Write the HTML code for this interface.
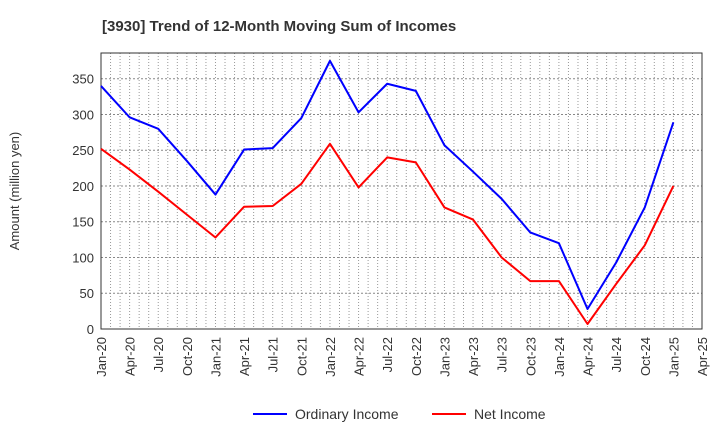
<!DOCTYPE html>
<html><head><meta charset="utf-8"><style>
body{margin:0;background:#fff;font-family:"Liberation Sans",sans-serif}
</style></head><body>
<svg id="c" width="720" height="440" xmlns="http://www.w3.org/2000/svg">
<text x="102" y="31" font-size="15" font-weight="bold" fill="#333">[3930]  Trend of 12-Month Moving Sum of Incomes</text>
<text transform="translate(19,191) rotate(-90)" text-anchor="middle" font-size="13" fill="#333">Amount (million yen)</text>
<g id="grid"></g><g id="axes"></g><g id="series"></g>
<g>
<line x1="253" y1="414" x2="287" y2="414" stroke="#0000ff" stroke-width="2"/>
<text x="295" y="419" font-size="14" fill="#333">Ordinary Income</text>
<line x1="432" y1="414" x2="466" y2="414" stroke="#ff0000" stroke-width="2"/>
<text x="474" y="419" font-size="14" fill="#333">Net Income</text>
</g>
</svg>
<script>
const xLabels=["Jan-20","Apr-20","Jul-20","Oct-20","Jan-21","Apr-21","Jul-21","Oct-21","Jan-22","Apr-22","Jul-22","Oct-22","Jan-23","Apr-23","Jul-23","Oct-23","Jan-24","Apr-24","Jul-24","Oct-24","Jan-25","Apr-25"];
const yTicks=[0,50,100,150,200,250,300,350];
const ordinaryIncome=[340,296,280,235,188,251,253,295,375,303,343,333,257,220,182,135,120,28,93,170,289];
const netIncome=[252,223,192,160,128,171,172,203,259,198,240,233,170,153,100,67,67,7,63,117,200];
const L=101,R=702,T=53,B=329,ymax=386;
const NS="http://www.w3.org/2000/svg";
const xq=i=>L+i*(R-L)/(xLabels.length-1);
const ys=v=>B-v*(B-T)/ymax;
function mk(tag,attrs,parent){const e=document.createElementNS(NS,tag);for(const k in attrs)e.setAttribute(k,attrs[k]);document.getElementById(parent).appendChild(e);return e;}
for(let m=1;m<(xLabels.length-1)*3;m++){
 const x=L+m*(R-L)/((xLabels.length-1)*3);
 const g=mk("line",{x1:x,x2:x,y1:T,y2:B,stroke:"#999","stroke-dasharray":"1,2","stroke-width":1},"grid");
 
 
}
yTicks.forEach(v=>{
 if(v>0){const g=mk("line",{x1:L,x2:R,y1:ys(v),y2:ys(v),stroke:"#888","stroke-dasharray":"2,2","stroke-width":1},"grid");
 
 }
 const t=mk("text",{x:L-7,y:ys(v)+5,"text-anchor":"end","font-size":13,fill:"#333"},"axes");t.textContent=v;
 
 
});
xLabels.forEach((s,i)=>{
 const t=mk("text",{transform:`translate(${xq(i)+5},${B+8}) rotate(-90)`,"text-anchor":"end","font-size":13,fill:"#333"},"axes");t.textContent=s;
 
 
});
const fr=mk("rect",{x:L,y:T,width:R-L,height:B-T,fill:"none",stroke:"#333","stroke-width":1},"axes");


function line(arr,color,name){
 const p=mk("polyline",{points:arr.map((v,i)=>xq(i)+","+ys(v)).join(" "),fill:"none",stroke:color,"stroke-width":2,"stroke-linejoin":"round"},"series");
 
 
}
line(ordinaryIncome,"#0000ff","ordinary-income-line");
line(netIncome,"#ff0000","net-income-line");
</script>
</body></html>
